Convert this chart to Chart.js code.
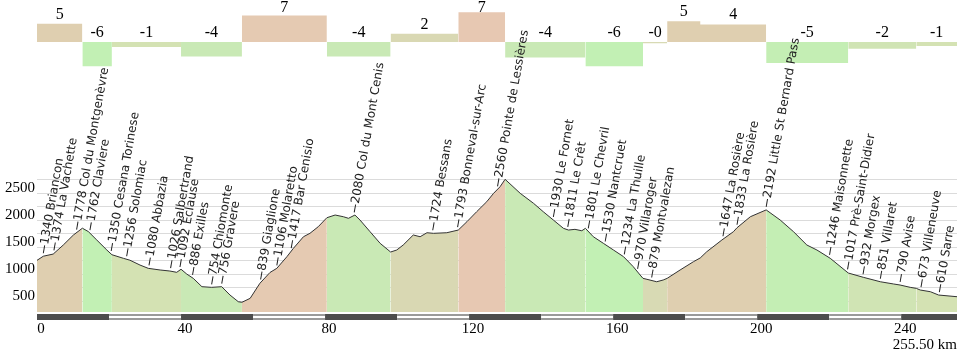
<!DOCTYPE html>
<html>
<head>
<meta charset="utf-8">
<script src="https://cdn.jsdelivr.net/npm/chart.js@4.4.1/dist/chart.umd.min.js"></script>
<style>
  body { margin: 0; background: #fff; }
  canvas { display: block; }
</style>
</head>
<body>
<canvas id="profileChart" width="971" height="354"></canvas>
<script>
// elevation profile (km, metres)
const profileKm = [0, 1.75, 4.5, 7.3, 10.1, 12.6, 14.25, 16.6, 19.4, 20.8, 24.0, 25.8, 28.6, 30.9, 34.2, 36.9, 38.8, 40.0,
  41.6, 43.4, 45.8, 48.5, 51.3, 53.6, 55.9, 56.9, 59.2, 61.9, 64.7, 66.6, 69.4, 71.2, 74.0, 75.8, 78.1, 80.5,
  82.8, 85.1, 86.5, 88.3, 89.7, 92.5, 95.3, 98.2, 99.9, 101.7, 104.5, 106.4, 108.3, 110.1, 113.8, 117.0,
  119.4, 122.1, 124.9, 126.8, 128.6, 130.0, 134.2, 137.9, 140.6, 143.4, 146.2, 147.6, 149.4, 151.3, 152.3,
  154.5, 157.3, 160.1, 162.9, 165.6, 167.5, 168.3, 169.4, 172.1, 173.9, 175.0, 178.6, 182.3, 184.2, 186.0,
  190.2, 193.4, 194.4, 198.1, 202.5, 206.4, 210.1, 213.8, 216.6, 220.3, 225.3, 229.5, 234.2, 237.9, 239.7,
  242.5, 244.2, 245.3, 248.1, 250.4, 255.5];
const profileElev = [1255, 1332, 1372, 1540, 1725, 1852, 1790, 1633, 1447, 1360, 1293, 1258, 1168, 1107, 1076, 1057, 1033, 1090,
  1000, 921, 766, 754, 766, 611, 487, 476, 550, 829, 1030, 1107, 1323, 1478, 1694, 1757, 1880, 2047,
  2097, 2065, 2036, 2097, 2004, 1787, 1571, 1410, 1447, 1540, 1726, 1694, 1768, 1757, 1768, 1818,
  1973, 2158, 2344, 2500, 2622, 2760, 2500, 2314, 2158, 2004, 1850, 1818, 1831, 1805, 1850,
  1694, 1571, 1447, 1323, 1137, 983, 921, 903, 858, 890, 921, 1076, 1230, 1300, 1415,
  1633, 1787, 1860, 2065, 2192, 2004, 1787, 1540, 1447, 1293, 1020, 940, 858, 816, 797,
  754, 735, 704, 673, 611, 580];

// gradient sections
const totalKm = 255.5;
const sectionStart = [0, 12.6, 20.8, 40.0, 56.9, 80.5, 98.2, 117.0, 130.0, 152.3, 168.3, 175.0, 184.2, 202.5, 225.3, 244.2];
const sectionGrade = [4.7, -6.2, -1.3, -3.7, 6.8, -3.7, 2.1, 7.6, -4.0, -6.2, -0.3, 5.3, 4.5, -5.4, -1.7, -1.0];
const sectionLabels = ['5', '-6', '-1', '-4', '7', '-4', '2', '7', '-4', '-6', '-0', '5', '4', '-5', '-2', '-1'];
const sectionColors = ['#dfcfb0', '#c2f0b4', '#d4e2b3', '#c9e9b5', '#e5cab2', '#c9e9b5', '#d9d8b3', '#e7c8b2',
  '#c9e9b5', '#c2f0b4', '#d8dab4', '#dfcfb0', '#dfcfb0', '#c4eeb4', '#d0e4b4', '#d4e2b3'];

// named places
const placeKm = [1.75, 4.7, 11.0, 14.7, 20.6, 24.9, 31.1, 37.1, 39.7, 43.2, 48.5, 51.3, 62.1, 66.6, 70.6, 88.1,
  109.9, 116.8, 127.9, 143.4, 147.4, 153.1, 157.8, 163.1, 166.8, 170.7, 190.5, 194.4, 202.5, 220.1, 225.1,
  229.4, 234.2, 239.7, 245.5, 250.6];
const placeNames = ['1340 Briancon', '1374 La Vachette', '1778 Col du Montgenèvre', '1762 Claviere',
  '1350 Cesana Torinese', '1256 Solomiac', '1080 Abbazia', '1026 Salbertrand', '1092 Eclause', '886 Exilles',
  '754 Chiomonte', '756 Gravere', '839 Giaglione', '1106 Molaretto', '1417 Bar Cenisio', '2080 Col du Mont Cenis',
  '1724 Bessans', '1793 Bonneval-sur-Arc', '2560 Pointe de Lessières', '1930 Le Fornet', '1811 Le Crêt',
  '1801 Le Chevril', '1530 Nantcruet', '1234 La Thuille', '970 Villaroger', '879 Montvalezan', '1647 La Rosière',
  '1833 La Rosière', '2192 Little St Bernard Pass', '1246 Maisonnette', '1017 Prè-Saint-Didier', '932 Morgex',
  '851 Villaret', '790 Avise', '673 Villeneuve', '610 Sarre'];

const xTicks = [0, 40, 80, 120, 160, 200, 240];
const yTicks = [500, 750, 1000, 1250, 1500, 1750, 2000, 2250, 2500, 2750];

const serif = '"Liberation Serif", "Times New Roman", serif';

function sectionIndex(km) {
  let i = 0;
  while (i < sectionStart.length - 1 && km >= sectionStart[i + 1] - 1e-6) i++;
  return i;
}

function elevAt(km) {
  for (let i = 1; i < profileKm.length; i++) {
    if (km <= profileKm[i]) {
      const t = (km - profileKm[i - 1]) / (profileKm[i] - profileKm[i - 1]);
      return profileElev[i - 1] + t * (profileElev[i] - profileElev[i - 1]);
    }
  }
  return profileElev[profileElev.length - 1];
}

function noPadding(s) {
  s.paddingTop = 0;
  s.paddingBottom = 0;
  s.paddingLeft = 0;
  s.paddingRight = 0;
}

const profilePoints = profileKm.map((km, i) => ({ x: km, y: profileElev[i] }));
const gradePoints = sectionStart.map((km, i) => ({ x: km, y: sectionGrade[i] }));
gradePoints.push({ x: totalKm, y: sectionGrade[sectionGrade.length - 1] });

// gradient numbers above the top bars
const gradeLabelPlugin = {
  id: 'gradeLabels',
  afterDatasetsDraw(chart) {
    const { ctx, scales: { x, yg } } = chart;
    ctx.save();
    ctx.font = '16px ' + serif;
    ctx.fillStyle = '#000';
    ctx.textAlign = 'center';
    ctx.textBaseline = 'alphabetic';
    sectionStart.forEach((s, i) => {
      const e = i + 1 < sectionStart.length ? sectionStart[i + 1] : totalKm;
      const cx = x.getPixelForValue((s + e) / 2);
      const top = yg.getPixelForValue(Math.max(sectionGrade[i], 0));
      ctx.fillText(sectionLabels[i], cx, Math.max(top - 5, 12));
    });
    ctx.restore();
  }
};

// place names, km scale bar
const decorPlugin = {
  id: 'decor',
  afterDraw(chart) {
    const { ctx, chartArea, scales: { x, y } } = chart;
    ctx.save();
    // alternating 20 km scale bar
    const top = chartArea.bottom + 2;
    for (let k = 0, n = 0; k < totalKm; k += 20, n++) {
      const x0 = x.getPixelForValue(k);
      const x1 = x.getPixelForValue(Math.min(k + 20, totalKm));
      if (n % 2 === 0) {
        ctx.fillStyle = '#4d4d4d';
        ctx.fillRect(x0, top, x1 - x0, 6);
      } else {
        ctx.fillStyle = '#9a9a9a';
        ctx.fillRect(x0, top, x1 - x0, 6);
        ctx.fillStyle = '#fff';
        ctx.fillRect(x0, top + 2, x1 - x0, 2);
      }
    }
    // rotated place labels
    ctx.font = '12px "DejaVu Sans", sans-serif';
    ctx.fillStyle = '#222';
    ctx.strokeStyle = '#222';
    ctx.lineWidth = 1;
    ctx.textAlign = 'left';
    ctx.textBaseline = 'middle';
    placeKm.forEach((km, i) => {
      const px = x.getPixelForValue(km);
      const py = y.getPixelForValue(elevAt(km)) - 3;
      ctx.save();
      ctx.translate(px, py);
      ctx.rotate(-80 * Math.PI / 180);
      ctx.beginPath();
      ctx.moveTo(0, 0);
      ctx.lineTo(8, 0);
      ctx.stroke();
      ctx.fillText(placeNames[i], 9, 0);
      ctx.restore();
    });
    ctx.restore();
  }
};

new Chart(document.getElementById('profileChart'), {
  type: 'line',
  data: {
    datasets: [{
      data: profilePoints,
      yAxisID: 'y',
      borderColor: '#333',
      borderWidth: 1,
      pointRadius: 0,
      fill: 'start',
      backgroundColor: sectionColors[0],
      segment: {
        backgroundColor: c => sectionColors[sectionIndex(c.p0.parsed.x)]
      }
    }, {
      data: gradePoints,
      yAxisID: 'yg',
      stepped: true,
      borderWidth: 0,
      borderColor: 'rgba(0,0,0,0)',
      pointRadius: 0,
      fill: 'origin',
      backgroundColor: sectionColors[0],
      segment: {
        backgroundColor: c => sectionColors[c.p0DataIndex]
      }
    }]
  },
  options: {
    responsive: false,
    animation: false,
    devicePixelRatio: 1,
    layout: { padding: { left: 0, right: 14, top: 0, bottom: 0 } },
    plugins: { legend: { display: false }, tooltip: { enabled: false } },
    scales: {
      x: {
        type: 'linear',
        min: 0,
        max: totalKm,
        grid: { display: false, drawTicks: false },
        border: { display: false },
        afterBuildTicks: s => { s.ticks = xTicks.map(v => ({ value: v })); },
        afterFit: s => { s.height = 42; noPadding(s); },
        ticks: { font: { family: serif, size: 15 }, color: '#000', padding: 8, maxRotation: 0, labelOffset: 4 },
        title: { display: true, text: '255.50 km', align: 'end', font: { family: serif, size: 15 }, color: '#000', padding: 0 }
      },
      y: {
        position: 'left',
        min: 296,
        max: 6090,
        grid: { color: 'rgba(0,0,0,0.14)', drawTicks: false },
        border: { display: false },
        afterBuildTicks: s => { s.ticks = yTicks.map(v => ({ value: v })); },
        afterFit: s => { s.width = 37; noPadding(s); },
        ticks: {
          font: { family: serif, size: 15 },
          color: '#000',
          padding: 2,
          labelOffset: -5,
          callback: v => (v % 500 === 0 ? String(v) : '')
        }
      },
      yg: {
        display: false,
        min: -69.2,
        max: 10.77
      }
    }
  },
  plugins: [gradeLabelPlugin, decorPlugin]
});
</script>
</body>
</html>
